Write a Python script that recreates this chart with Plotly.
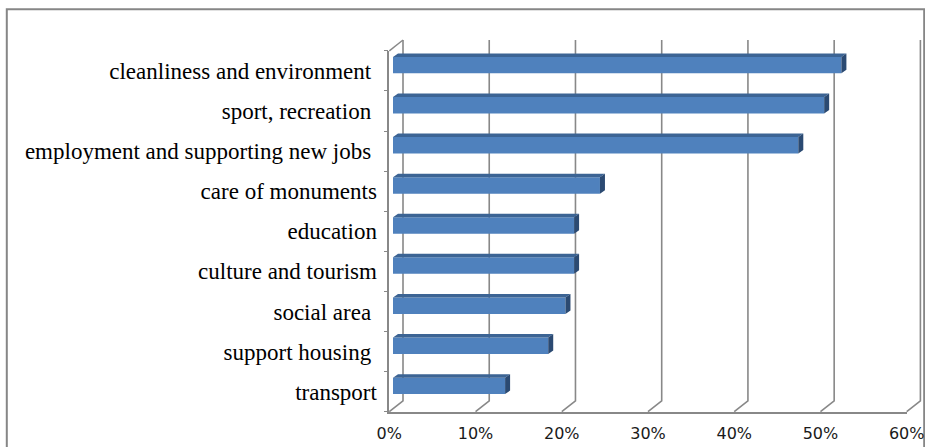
import plotly.graph_objects as go

# Survey answers (share of respondents), listed top to bottom
categories = [
    "cleanliness and environment ",
    "sport, recreation ",
    "employment and supporting new jobs ",
    "care of monuments",
    "education",
    "culture and tourism",
    "social area ",
    "support housing ",
    "transport",
]
shares = [52, 50, 47, 24, 21, 21, 20, 18, 13]

tick_values = [0, 10, 20, 30, 40, 50, 60]
tick_labels = ["0%", "10%", "20%", "30%", "40%", "50%", "60%"]

# ---- canvas geometry (pixels, origin top-left) ----
W, H = 925, 447
FRONT_LEFT, FRONT_RIGHT = 389.3, 906.7      # 0% and 60% on the front floor edge
FRONT_TOP, FRONT_BOTTOM = 50.9, 411.7       # category band on the front plane
BAR_SHIFT_X, BAR_SHIFT_Y = 3.7, 5.8         # bar plane sits a little deeper
WALL_DX, WALL_DY = 13.7, 10.9               # depth of the floor / back wall
BAR_DX, BAR_DY = 5.0, 3.5                   # depth of each bar
GRID_COLOR = "#888888"


def px(x):
    return x / W


def py(y):
    return 1 - y / H


n = len(categories)
x_max = tick_values[-1]
unit_px = (FRONT_RIGHT - FRONT_LEFT) / x_max
band_px = (FRONT_BOTTOM - FRONT_TOP) / n
bar_width = 0.41

# the bars stand a little behind the front floor edge
ox = BAR_SHIFT_X / unit_px
oy = -BAR_SHIFT_Y / band_px
ddx = BAR_DX / unit_px
ddy = BAR_DY / band_px

fig = go.Figure()

# front faces of the bars
fig.add_trace(go.Bar(
    x=shares, base=ox, y=[i + oy for i in range(n)], orientation="h",
    width=bar_width,
    marker=dict(color="#4F81BD", line=dict(width=0)),
    hoverinfo="skip", showlegend=False,
))

# top and side faces give the bars their depth
top_x, top_y, side_x, side_y = [], [], [], []
for i, v in enumerate(shares):
    t, b = i - bar_width / 2 + oy, i + bar_width / 2 + oy
    x0, x1 = ox, v + ox
    top_x += [x0, x1, x1 + ddx, x0 + ddx, x0, None]
    top_y += [t, t, t - ddy, t - ddy, t, None]
    side_x += [x1, x1 + ddx, x1 + ddx, x1, x1, None]
    side_y += [t, t - ddy, b - ddy, b, t, None]

fig.add_trace(go.Scatter(
    x=top_x, y=top_y, mode="lines",
    fill="toself", fillcolor="#3C6494", line=dict(width=0),
    hoverinfo="skip", showlegend=False,
))
fig.add_trace(go.Scatter(
    x=side_x, y=side_y, mode="lines",
    fill="toself", fillcolor="#2B4A72", line=dict(width=0),
    hoverinfo="skip", showlegend=False,
))

shapes = []
# back-wall gridlines, each joined to its tick on the front floor edge
for v in tick_values:
    fx = FRONT_LEFT + v * unit_px
    bx = fx + WALL_DX
    shapes.append(dict(
        type="path", xref="paper", yref="paper",
        path=(f"M{px(fx)},{py(FRONT_BOTTOM)} "
              f"L{px(bx)},{py(FRONT_BOTTOM - WALL_DY)} "
              f"L{px(bx)},{py(FRONT_TOP - WALL_DY)}"),
        line=dict(color=GRID_COLOR, width=1.6), layer="below",
    ))
# top edge of the left wall
shapes.append(dict(
    type="line", xref="paper", yref="paper",
    x0=px(FRONT_LEFT), y0=py(FRONT_TOP),
    x1=px(FRONT_LEFT + WALL_DX), y1=py(FRONT_TOP - WALL_DY),
    line=dict(color=GRID_COLOR, width=1.4), layer="below",
))
# chart frame
shapes.append(dict(
    type="rect", xref="paper", yref="paper",
    x0=px(6.8), x1=px(924.2), y0=-0.1, y1=py(9.2),
    line=dict(color="#868686", width=2), layer="below",
))

fig.update_layout(
    width=W, height=H,
    margin=dict(l=0, r=0, t=0, b=0, autoexpand=False),
    paper_bgcolor="white", plot_bgcolor="rgba(0,0,0,0)",
    shapes=shapes,
    showlegend=False,
    xaxis=dict(
        domain=[px(FRONT_LEFT), px(FRONT_RIGHT)], range=[0, x_max],
        anchor="y", tickmode="array", tickvals=tick_values, ticktext=tick_labels,
        ticks="", showgrid=False, zeroline=False, automargin=False,
        showline=True, linecolor=GRID_COLOR, linewidth=1.6,
        tickfont=dict(family="DejaVu Sans", size=16, color="#1a1a1a"),
        ticklabelstandoff=6, fixedrange=True,
    ),
    yaxis=dict(
        domain=[py(FRONT_BOTTOM), py(FRONT_TOP)], range=[n - 0.5, -0.5],
        anchor="x", tickmode="array", tickvals=list(range(n)),
        ticktext=[c.replace(" ", "\u00a0") for c in categories],
        ticks="", showgrid=False, zeroline=False, automargin=False,
        showline=True, linecolor=GRID_COLOR, linewidth=1.6,
        minor=dict(tickmode="array", tickvals=[k - 0.5 for k in range(n + 1)],
                   ticks="outside", ticklen=4, tickwidth=1.4, tickcolor=GRID_COLOR),
        tickfont=dict(family="Liberation Serif", size=23, color="#000000"),
        ticklabelstandoff=6, fixedrange=True,
    ),
)

fig.write_html("out.html")
